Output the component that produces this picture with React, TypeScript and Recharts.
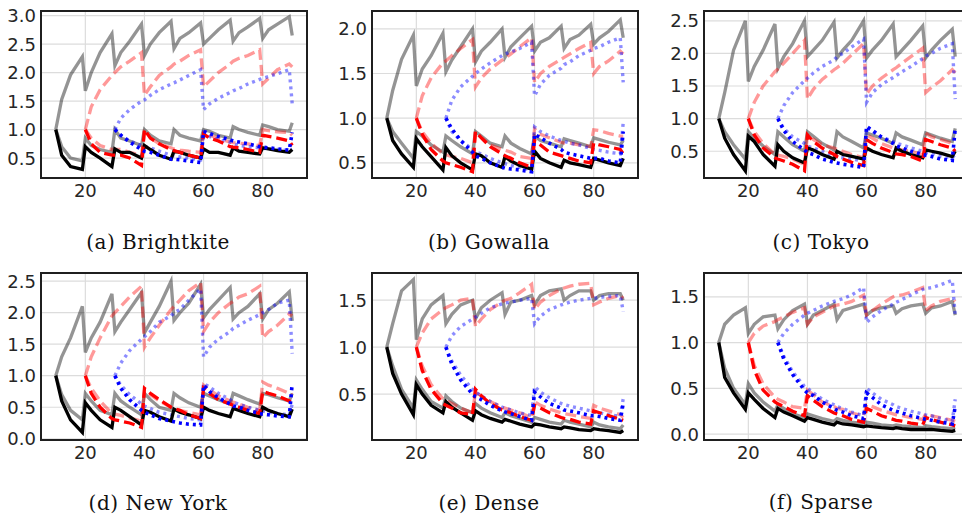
import { LineChart, Line, XAxis, YAxis, CartesianGrid } from 'recharts';

const _ = null;

// shared x grid (resets happen every 10 steps)
const steps = [10, 12, 15, 19, 20, 22, 25, 29, 30, 32, 35, 39, 40, 42, 45, 49, 50, 52, 55, 59, 60, 62, 65, 69, 70, 72, 75, 79, 80, 82, 85, 89, 90];

// (a) Brightkite
const bkGrayUp = [1.0, 1.53, 1.96, 2.28, 1.68, 2.0, 2.35, 2.68, 2.12, 2.35, 2.55, 2.85, 2.3, 2.5, 2.7, 2.9, 2.42, 2.6, 2.7, 2.87, 2.5, 2.6, 2.75, 2.92, 2.55, 2.7, 2.8, 2.95, 2.6, 2.75, 2.85, 2.98, 2.65];
const bkGrayLow = [1.0, 0.7, 0.5, 0.45, 0.85, 0.72, 0.65, 0.6, 1.0, 0.85, 0.8, 0.72, 1.0, 0.9, 0.8, 0.75, 1.0, 0.9, 0.85, 0.8, 1.0, 0.97, 0.9, 0.85, 1.05, 1.0, 0.95, 0.9, 1.08, 1.05, 1.0, 0.97, 1.12];
const bkBlack = [1.0, 0.55, 0.35, 0.3, 0.7, 0.6, 0.5, 0.35, 0.66, 0.6, 0.6, 0.5, 0.72, 0.65, 0.55, 0.48, 0.62, 0.6, 0.55, 0.5, 0.66, 0.6, 0.6, 0.55, 0.68, 0.62, 0.6, 0.57, 0.68, 0.66, 0.63, 0.6, 0.65];
const bkPinkUp = [_, _, _, _, 1.0, 1.4, 1.7, 1.95, 2.0, 2.1, 2.2, 2.35, 1.6, 1.75, 1.95, 2.1, 2.15, 2.2, 2.3, 2.4, 1.75, 1.85, 2.0, 2.15, 2.2, 2.25, 2.3, 2.4, 1.8, 1.9, 2.05, 2.15, 2.1];
const bkPinkLow = [_, _, _, _, 1.0, 0.85, 0.72, 0.65, 0.65, 0.65, 0.6, 0.55, 0.95, 0.85, 0.75, 0.68, 0.66, 0.64, 0.62, 0.6, 0.95, 0.9, 0.85, 0.78, 0.77, 0.76, 0.75, 0.72, 1.0, 0.98, 0.96, 0.95, 0.9];
const bkRed = [_, _, _, _, 1.0, 0.75, 0.6, 0.55, 0.55, 0.55, 0.5, 0.37, 1.0, 0.85, 0.75, 0.65, 0.63, 0.6, 0.55, 0.5, 0.92, 0.85, 0.8, 0.7, 0.69, 0.68, 0.65, 0.6, 0.9, 0.88, 0.85, 0.8, 0.72];
const bkLightBlueUp = [_, _, _, _, _, _, _, _, 1.0, 1.2, 1.35, 1.5, 1.52, 1.6, 1.7, 1.8, 1.82, 1.87, 1.95, 2.05, 1.35, 1.45, 1.55, 1.65, 1.68, 1.72, 1.8, 1.88, 1.9, 1.93, 1.98, 2.05, 1.45];
const bkLightBlueLow = [_, _, _, _, _, _, _, _, 1.0, 0.9, 0.8, 0.72, 0.7, 0.68, 0.62, 0.55, 0.54, 0.52, 0.5, 0.47, 0.95, 0.88, 0.82, 0.78, 0.75, 0.72, 0.7, 0.68, 0.67, 0.66, 0.65, 0.63, 0.65];
const bkBlue = [_, _, _, _, _, _, _, _, 1.0, 0.9, 0.78, 0.65, 0.62, 0.6, 0.55, 0.48, 0.48, 0.47, 0.45, 0.42, 0.97, 0.93, 0.88, 0.82, 0.8, 0.78, 0.75, 0.7, 0.69, 0.68, 0.66, 0.64, 0.95];

// (b) Gowalla
const gwGrayUp = [1.0, 1.31, 1.66, 1.93, 1.36, 1.55, 1.7, 1.95, 1.52, 1.65, 1.8, 2.0, 1.63, 1.75, 1.85, 2.0, 1.68, 1.8, 1.9, 2.03, 1.75, 1.85, 1.9, 2.03, 1.78, 1.88, 1.93, 2.05, 1.83, 1.9, 1.97, 2.1, 1.9];
const gwGrayLow = [1.0, 0.85, 0.72, 0.55, 0.85, 0.8, 0.7, 0.62, 0.8, 0.75, 0.68, 0.6, 0.85, 0.8, 0.72, 0.68, 0.8, 0.72, 0.66, 0.6, 0.8, 0.75, 0.72, 0.68, 0.77, 0.75, 0.72, 0.68, 0.78, 0.76, 0.73, 0.7, 0.75];
const gwBlack = [1.0, 0.75, 0.6, 0.45, 0.77, 0.68, 0.57, 0.42, 0.67, 0.58, 0.5, 0.42, 0.6, 0.58, 0.5, 0.45, 0.57, 0.52, 0.47, 0.43, 0.63, 0.55, 0.5, 0.45, 0.53, 0.5, 0.48, 0.45, 0.55, 0.53, 0.5, 0.47, 0.55];
const gwPinkUp = [_, _, _, _, 1.0, 1.25, 1.45, 1.62, 1.64, 1.7, 1.78, 1.88, 1.35, 1.45, 1.55, 1.65, 1.67, 1.72, 1.8, 1.9, 1.4, 1.5, 1.58, 1.66, 1.68, 1.72, 1.78, 1.85, 1.5, 1.58, 1.64, 1.75, 1.72];
const gwPinkLow = [_, _, _, _, 1.0, 0.85, 0.72, 0.6, 0.59, 0.57, 0.55, 0.5, 0.85, 0.78, 0.7, 0.65, 0.64, 0.62, 0.57, 0.55, 0.88, 0.82, 0.78, 0.73, 0.72, 0.72, 0.7, 0.68, 0.87, 0.86, 0.83, 0.8, 0.8];
const gwRed = [_, _, _, _, 1.0, 0.82, 0.65, 0.52, 0.5, 0.48, 0.45, 0.4, 0.85, 0.78, 0.68, 0.6, 0.58, 0.55, 0.5, 0.45, 0.75, 0.7, 0.62, 0.58, 0.57, 0.55, 0.52, 0.5, 0.72, 0.7, 0.68, 0.65, 0.6];
const gwLightBlueUp = [_, _, _, _, _, _, _, _, 1.0, 1.2, 1.35, 1.47, 1.5, 1.55, 1.62, 1.7, 1.72, 1.74, 1.78, 1.85, 1.25, 1.38, 1.48, 1.56, 1.6, 1.63, 1.7, 1.76, 1.78, 1.8, 1.85, 1.9, 1.4];
const gwLightBlueLow = [_, _, _, _, _, _, _, _, 1.0, 0.85, 0.75, 0.65, 0.62, 0.6, 0.55, 0.5, 0.49, 0.47, 0.45, 0.42, 0.9, 0.85, 0.8, 0.75, 0.74, 0.72, 0.7, 0.66, 0.65, 0.64, 0.62, 0.6, 0.95];
const gwBlue = [_, _, _, _, _, _, _, _, 1.0, 0.88, 0.75, 0.62, 0.58, 0.55, 0.5, 0.45, 0.44, 0.43, 0.42, 0.4, 0.82, 0.78, 0.72, 0.65, 0.62, 0.6, 0.58, 0.55, 0.55, 0.55, 0.52, 0.5, 0.85];

// (c) Tokyo
const tkGrayUp = [1.0, 1.4, 2.05, 2.5, 1.57, 1.8, 2.05, 2.45, 1.77, 1.95, 2.15, 2.5, 1.95, 2.05, 2.2, 2.48, 1.93, 2.05, 2.2, 2.5, 1.93, 2.05, 2.2, 2.45, 1.95, 2.05, 2.2, 2.42, 1.93, 2.05, 2.2, 2.37, 1.95];
const tkGrayLow = [1.0, 0.8, 0.6, 0.38, 0.8, 0.7, 0.58, 0.45, 0.8, 0.72, 0.6, 0.5, 0.8, 0.73, 0.62, 0.52, 0.8, 0.72, 0.65, 0.55, 0.78, 0.75, 0.7, 0.62, 0.78, 0.72, 0.67, 0.6, 0.78, 0.75, 0.7, 0.65, 0.85];
const tkBlack = [1.0, 0.7, 0.45, 0.2, 0.73, 0.65, 0.45, 0.27, 0.6, 0.5, 0.4, 0.32, 0.55, 0.52, 0.45, 0.38, 0.5, 0.45, 0.42, 0.38, 0.55, 0.5, 0.45, 0.4, 0.55, 0.5, 0.45, 0.4, 0.52, 0.5, 0.47, 0.42, 0.5];
const tkPinkUp = [_, _, _, _, 1.0, 1.25, 1.5, 1.72, 1.76, 1.85, 2.0, 2.2, 1.3, 1.45, 1.6, 1.75, 1.78, 1.85, 1.98, 2.15, 1.38, 1.5, 1.62, 1.75, 1.78, 1.85, 1.95, 2.08, 1.4, 1.48, 1.58, 1.75, 1.7];
const tkPinkLow = [_, _, _, _, 1.0, 0.8, 0.62, 0.45, 0.44, 0.42, 0.38, 0.3, 0.75, 0.68, 0.6, 0.55, 0.53, 0.5, 0.45, 0.4, 0.75, 0.7, 0.62, 0.55, 0.54, 0.52, 0.5, 0.45, 0.78, 0.72, 0.68, 0.62, 0.6];
const tkRed = [_, _, _, _, 1.0, 0.75, 0.55, 0.4, 0.38, 0.35, 0.3, 0.2, 0.75, 0.65, 0.55, 0.45, 0.42, 0.38, 0.33, 0.28, 0.68, 0.62, 0.55, 0.48, 0.46, 0.45, 0.42, 0.35, 0.68, 0.65, 0.6, 0.55, 0.5];
const tkLightBlueUp = [_, _, _, _, _, _, _, _, 1.0, 1.2, 1.4, 1.58, 1.62, 1.7, 1.8, 1.9, 1.95, 2.0, 2.1, 2.22, 1.25, 1.4, 1.52, 1.63, 1.66, 1.72, 1.8, 1.92, 1.96, 2.0, 2.08, 2.15, 1.3];
const tkLightBlueLow = [_, _, _, _, _, _, _, _, 1.0, 0.85, 0.72, 0.62, 0.58, 0.55, 0.5, 0.42, 0.41, 0.4, 0.38, 0.35, 0.85, 0.8, 0.72, 0.65, 0.62, 0.6, 0.55, 0.5, 0.48, 0.47, 0.43, 0.4, 0.45];
const tkBlue = [_, _, _, _, _, _, _, _, 1.0, 0.82, 0.65, 0.52, 0.48, 0.45, 0.38, 0.33, 0.32, 0.3, 0.28, 0.25, 0.88, 0.82, 0.72, 0.62, 0.58, 0.55, 0.5, 0.45, 0.44, 0.42, 0.38, 0.36, 0.85];

// (d) New York
const nyGrayUp = [1.0, 1.3, 1.6, 2.1, 1.37, 1.6, 1.85, 2.3, 1.7, 1.85, 2.05, 2.32, 1.68, 1.85, 2.1, 2.5, 1.88, 2.0, 2.15, 2.45, 1.92, 2.05, 2.2, 2.4, 1.9, 2.0, 2.1, 2.3, 1.9, 2.05, 2.15, 2.33, 1.87];
const nyGrayLow = [1.0, 0.7, 0.45, 0.3, 0.72, 0.6, 0.45, 0.38, 0.72, 0.6, 0.5, 0.38, 0.72, 0.62, 0.5, 0.45, 0.72, 0.65, 0.57, 0.5, 0.72, 0.68, 0.62, 0.55, 0.72, 0.68, 0.62, 0.55, 0.72, 0.7, 0.65, 0.6, 0.72];
const nyBlack = [1.0, 0.6, 0.3, 0.1, 0.57, 0.45, 0.3, 0.18, 0.5, 0.45, 0.35, 0.22, 0.45, 0.42, 0.35, 0.28, 0.47, 0.42, 0.38, 0.32, 0.5, 0.45, 0.4, 0.35, 0.48, 0.45, 0.4, 0.35, 0.5, 0.45, 0.4, 0.35, 0.47];
const nyPinkUp = [_, _, _, _, 1.0, 1.3, 1.6, 1.95, 2.0, 2.1, 2.25, 2.42, 1.45, 1.6, 1.8, 2.05, 2.1, 2.2, 2.35, 2.48, 1.7, 1.85, 2.0, 2.15, 2.18, 2.25, 2.3, 2.42, 1.6, 1.7, 1.8, 1.98, 1.95];
const nyPinkLow = [_, _, _, _, 1.0, 0.8, 0.6, 0.4, 0.39, 0.37, 0.33, 0.28, 0.75, 0.7, 0.6, 0.5, 0.48, 0.45, 0.42, 0.38, 0.85, 0.78, 0.68, 0.6, 0.58, 0.55, 0.5, 0.45, 0.9, 0.85, 0.8, 0.72, 0.7];
const nyRed = [_, _, _, _, 1.0, 0.72, 0.5, 0.32, 0.3, 0.28, 0.25, 0.18, 0.8, 0.72, 0.62, 0.5, 0.48, 0.45, 0.38, 0.32, 0.8, 0.72, 0.62, 0.55, 0.53, 0.5, 0.45, 0.4, 0.75, 0.72, 0.68, 0.6, 0.55];
const nyLightBlueUp = [_, _, _, _, _, _, _, _, 1.0, 1.2, 1.4, 1.58, 1.62, 1.7, 1.85, 1.95, 2.0, 2.05, 2.2, 2.38, 1.3, 1.45, 1.58, 1.7, 1.75, 1.8, 1.88, 1.97, 2.0, 2.05, 2.15, 2.2, 1.35];
const nyLightBlueLow = [_, _, _, _, _, _, _, _, 1.0, 0.85, 0.7, 0.55, 0.52, 0.48, 0.42, 0.38, 0.37, 0.35, 0.32, 0.3, 0.88, 0.82, 0.72, 0.62, 0.58, 0.55, 0.5, 0.45, 0.44, 0.42, 0.4, 0.38, 0.55];
const nyBlue = [_, _, _, _, _, _, _, _, 1.0, 0.8, 0.62, 0.45, 0.42, 0.38, 0.32, 0.28, 0.27, 0.25, 0.23, 0.22, 0.85, 0.75, 0.65, 0.55, 0.52, 0.5, 0.45, 0.4, 0.39, 0.38, 0.36, 0.35, 0.88];

// (e) Dense
const dnGrayUp = [1.0, 1.25, 1.6, 1.72, 1.08, 1.3, 1.45, 1.55, 1.25, 1.35, 1.45, 1.5, 1.3, 1.42, 1.5, 1.58, 1.35, 1.48, 1.5, 1.55, 1.45, 1.55, 1.6, 1.62, 1.5, 1.55, 1.6, 1.6, 1.5, 1.55, 1.57, 1.57, 1.5];
const dnGrayLow = [1.0, 0.8, 0.55, 0.35, 0.65, 0.55, 0.42, 0.35, 0.48, 0.42, 0.35, 0.3, 0.4, 0.35, 0.3, 0.25, 0.3, 0.27, 0.24, 0.2, 0.25, 0.23, 0.2, 0.18, 0.22, 0.2, 0.18, 0.15, 0.2, 0.17, 0.15, 0.13, 0.17];
const dnBlack = [1.0, 0.72, 0.5, 0.28, 0.6, 0.5, 0.38, 0.3, 0.42, 0.36, 0.3, 0.22, 0.32, 0.28, 0.24, 0.2, 0.23, 0.21, 0.18, 0.15, 0.18, 0.17, 0.15, 0.13, 0.15, 0.14, 0.12, 0.11, 0.13, 0.12, 0.11, 0.09, 0.11];
const dnPinkUp = [_, _, _, _, 1.0, 1.15, 1.3, 1.4, 1.42, 1.45, 1.5, 1.52, 1.22, 1.3, 1.4, 1.48, 1.5, 1.52, 1.58, 1.67, 1.4, 1.48, 1.55, 1.62, 1.63, 1.65, 1.67, 1.68, 1.45, 1.48, 1.52, 1.55, 1.52];
const dnPinkLow = [_, _, _, _, 1.0, 0.8, 0.6, 0.45, 0.43, 0.4, 0.35, 0.3, 0.52, 0.48, 0.42, 0.36, 0.35, 0.33, 0.3, 0.25, 0.42, 0.38, 0.34, 0.3, 0.29, 0.28, 0.26, 0.24, 0.38, 0.35, 0.32, 0.28, 0.25];
const dnRed = [_, _, _, _, 1.0, 0.75, 0.55, 0.4, 0.38, 0.35, 0.3, 0.28, 0.55, 0.48, 0.4, 0.33, 0.32, 0.3, 0.26, 0.22, 0.38, 0.35, 0.3, 0.25, 0.24, 0.23, 0.2, 0.18, 0.32, 0.3, 0.27, 0.23, 0.22];
const dnLightBlueUp = [_, _, _, _, _, _, _, _, 1.0, 1.12, 1.22, 1.3, 1.32, 1.36, 1.42, 1.46, 1.47, 1.48, 1.5, 1.52, 1.25, 1.33, 1.4, 1.45, 1.46, 1.48, 1.5, 1.52, 1.52, 1.53, 1.54, 1.55, 1.38];
const dnLightBlueLow = [_, _, _, _, _, _, _, _, 1.0, 0.85, 0.7, 0.55, 0.52, 0.48, 0.42, 0.36, 0.35, 0.33, 0.3, 0.27, 0.58, 0.52, 0.46, 0.4, 0.39, 0.37, 0.35, 0.32, 0.31, 0.3, 0.28, 0.26, 0.45];
const dnBlue = [_, _, _, _, _, _, _, _, 1.0, 0.82, 0.65, 0.5, 0.47, 0.44, 0.38, 0.32, 0.31, 0.29, 0.26, 0.22, 0.52, 0.47, 0.4, 0.35, 0.33, 0.32, 0.3, 0.27, 0.27, 0.26, 0.24, 0.22, 0.4];

// (f) Sparse
const spGrayUp = [1.0, 1.2, 1.3, 1.38, 1.1, 1.2, 1.28, 1.3, 1.15, 1.25, 1.35, 1.42, 1.2, 1.3, 1.35, 1.42, 1.25, 1.35, 1.38, 1.42, 1.3, 1.35, 1.38, 1.4, 1.32, 1.37, 1.4, 1.42, 1.32, 1.38, 1.4, 1.45, 1.3];
const spGrayLow = [1.0, 0.72, 0.5, 0.32, 0.55, 0.45, 0.35, 0.25, 0.32, 0.28, 0.22, 0.18, 0.22, 0.2, 0.17, 0.14, 0.17, 0.15, 0.13, 0.11, 0.13, 0.12, 0.1, 0.09, 0.1, 0.09, 0.08, 0.07, 0.09, 0.08, 0.07, 0.06, 0.07];
const spBlack = [1.0, 0.62, 0.45, 0.27, 0.45, 0.38, 0.28, 0.18, 0.28, 0.24, 0.2, 0.14, 0.18, 0.16, 0.13, 0.1, 0.13, 0.11, 0.1, 0.08, 0.09, 0.08, 0.07, 0.06, 0.07, 0.06, 0.05, 0.05, 0.05, 0.05, 0.04, 0.03, 0.04];
const spPinkUp = [_, _, _, _, 1.0, 1.1, 1.18, 1.23, 1.25, 1.28, 1.33, 1.38, 1.2, 1.28, 1.33, 1.4, 1.41, 1.42, 1.45, 1.52, 1.3, 1.35, 1.42, 1.5, 1.51, 1.52, 1.55, 1.6, 1.35, 1.4, 1.45, 1.48, 1.45];
const spPinkLow = [_, _, _, _, 1.0, 0.75, 0.55, 0.4, 0.38, 0.35, 0.3, 0.28, 0.48, 0.43, 0.35, 0.3, 0.28, 0.27, 0.23, 0.2, 0.32, 0.3, 0.26, 0.22, 0.21, 0.2, 0.18, 0.16, 0.22, 0.2, 0.18, 0.15, 0.14];
const spRed = [_, _, _, _, 1.0, 0.7, 0.48, 0.35, 0.33, 0.3, 0.25, 0.2, 0.42, 0.37, 0.3, 0.23, 0.22, 0.2, 0.16, 0.13, 0.28, 0.25, 0.2, 0.16, 0.15, 0.14, 0.12, 0.1, 0.18, 0.16, 0.13, 0.1, 0.09];
const spLightBlueUp = [_, _, _, _, _, _, _, _, 1.0, 1.1, 1.2, 1.3, 1.32, 1.35, 1.4, 1.45, 1.46, 1.48, 1.52, 1.6, 1.22, 1.28, 1.35, 1.42, 1.44, 1.47, 1.52, 1.58, 1.59, 1.6, 1.63, 1.68, 1.3];
const spLightBlueLow = [_, _, _, _, _, _, _, _, 1.0, 0.85, 0.68, 0.52, 0.5, 0.45, 0.38, 0.32, 0.3, 0.28, 0.24, 0.2, 0.5, 0.45, 0.38, 0.32, 0.3, 0.28, 0.25, 0.22, 0.21, 0.2, 0.17, 0.14, 0.38];
const spBlue = [_, _, _, _, _, _, _, _, 1.0, 0.82, 0.65, 0.48, 0.45, 0.42, 0.35, 0.28, 0.26, 0.24, 0.2, 0.17, 0.45, 0.4, 0.32, 0.26, 0.25, 0.23, 0.2, 0.17, 0.16, 0.15, 0.13, 0.11, 0.3];

type Series = (number | null)[][];

const seriesKeys = ['gU', 'gL', 'pU', 'pL', 'lbU', 'lbL', 'k', 'r', 'b'];

const styles: Record<string, { stroke: string; opacity: number; dash?: string; width: number }> = {
  gU: { stroke: '#000', opacity: 0.42, width: 3.3 },
  gL: { stroke: '#000', opacity: 0.42, width: 3.3 },
  pU: { stroke: '#ff0000', opacity: 0.4, dash: '11 5', width: 3.3 },
  pL: { stroke: '#ff0000', opacity: 0.4, dash: '11 5', width: 3.3 },
  lbU: { stroke: '#0000ff', opacity: 0.45, dash: '3 4', width: 3.4 },
  lbL: { stroke: '#0000ff', opacity: 0.45, dash: '3 4', width: 3.4 },
  k: { stroke: '#000', opacity: 1, width: 3.3 },
  r: { stroke: '#ff0000', opacity: 1, dash: '11 5', width: 3.3 },
  b: { stroke: '#0000ff', opacity: 1, dash: '3 4', width: 3.6 },
};

const Y_AXIS_W = 41;
const X_AXIS_H = 26;
const TOP_PAD = 12;
const PLOT_W = 266;
const PLOT_H = 167;
const TICK_FONT = { fontFamily: 'DejaVu Sans', fontSize: 18, fill: '#262626' };

function YTick(props: any) {
  const { x, y, payload } = props;
  return (
    <text x={x} y={y} dy="0.36em" textAnchor="end" {...TICK_FONT}>
      {Number(payload.value).toFixed(1)}
    </text>
  );
}

interface PanelProps {
  series: Series;
  yDomain: [number, number];
  yTicks: number[];
  plotLeft: number;
  plotTop: number;
  caption: string;
  captionX: number;
  captionY: number;
}

function Panel({ series, yDomain, yTicks, plotLeft, plotTop, caption, captionX, captionY }: PanelProps) {
  const data = steps.map((x, i) => {
    const row: Record<string, number | null> = { x };
    seriesKeys.forEach((k, j) => {
      row[k] = series[j][i];
    });
    return row;
  });
  return (
    <>
      <div style={{ position: 'absolute', left: plotLeft - Y_AXIS_W, top: plotTop - TOP_PAD }}>
        <LineChart
          width={Y_AXIS_W + PLOT_W}
          height={TOP_PAD + PLOT_H + X_AXIS_H}
          data={data}
          margin={{ top: TOP_PAD, right: 0, bottom: 0, left: 0 }}
        >
          <CartesianGrid stroke="#dcdcdc" strokeWidth={1.2} />
          <XAxis
            dataKey="x"
            type="number"
            domain={[5, 95]}
            allowDataOverflow
            ticks={[20, 40, 60, 80]}
            interval={0}
            tickLine={false}
            axisLine={false}
            tickSize={0}
            tickMargin={6}
            height={X_AXIS_H}
            tick={TICK_FONT}
          />
          <YAxis
            type="number"
            domain={yDomain}
            allowDataOverflow
            ticks={yTicks}
            interval={0}
            tick={<YTick />}
            tickLine={false}
            axisLine={false}
            tickSize={0}
            tickMargin={5}
            width={Y_AXIS_W}
          />
          {seriesKeys.map((k) => (
            <Line
              key={k}
              dataKey={k}
              type="linear"
              dot={false}
              stroke={styles[k].stroke}
              strokeOpacity={styles[k].opacity}
              strokeWidth={styles[k].width}
              strokeDasharray={styles[k].dash}
              isAnimationActive={false}
            />
          ))}
        </LineChart>
      </div>
      {/* axes frame */}
      <div
        style={{
          position: 'absolute',
          zIndex: 5,
          left: plotLeft - 1,
          top: plotTop - 1,
          width: PLOT_W + 2,
          height: PLOT_H + 2,
          border: '2px solid #1f1f1f',
          boxSizing: 'border-box',
          pointerEvents: 'none',
        }}
      />
      <div
        style={{
          position: 'absolute',
          left: captionX - 150,
          width: 300,
          top: captionY - 12,
          textAlign: 'center',
          fontFamily: 'DejaVu Serif',
          fontSize: 20,
          letterSpacing: 0.5,
          lineHeight: '24px',
          color: '#111',
        }}
      >
        {caption}
      </div>
    </>
  );
}

export default function App() {
  return (
    <div
      style={{
        position: 'fixed',
        left: 0,
        top: 0,
        width: 962,
        height: 514,
        overflow: 'hidden',
        background: '#fff',
      }}
    >
      <Panel
        series={[bkGrayUp, bkGrayLow, bkPinkUp, bkPinkLow, bkLightBlueUp, bkLightBlueLow, bkBlack, bkRed, bkBlue]}
        yDomain={[0.15, 3.08]}
        yTicks={[0.5, 1, 1.5, 2, 2.5, 3]}
        plotLeft={41}
        plotTop={11}
        caption="(a) Brightkite"
        captionX={158}
        captionY={242}
      />
      <Panel
        series={[gwGrayUp, gwGrayLow, gwPinkUp, gwPinkLow, gwLightBlueUp, gwLightBlueLow, gwBlack, gwRed, gwBlue]}
        yDomain={[0.33, 2.2]}
        yTicks={[0.5, 1, 1.5, 2]}
        plotLeft={372}
        plotTop={11}
        caption="(b) Gowalla"
        captionX={489}
        captionY={242}
      />
      <Panel
        series={[tkGrayUp, tkGrayLow, tkPinkUp, tkPinkLow, tkLightBlueUp, tkLightBlueLow, tkBlack, tkRed, tkBlue]}
        yDomain={[0.09, 2.65]}
        yTicks={[0.5, 1, 1.5, 2, 2.5]}
        plotLeft={704}
        plotTop={11}
        caption="(c) Tokyo"
        captionX={821}
        captionY={242}
      />
      <Panel
        series={[nyGrayUp, nyGrayLow, nyPinkUp, nyPinkLow, nyLightBlueUp, nyLightBlueLow, nyBlack, nyRed, nyBlue]}
        yDomain={[-0.02, 2.63]}
        yTicks={[0, 0.5, 1, 1.5, 2, 2.5]}
        plotLeft={41}
        plotTop={273}
        caption="(d) New York"
        captionX={158}
        captionY={503}
      />
      <Panel
        series={[dnGrayUp, dnGrayLow, dnPinkUp, dnPinkLow, dnLightBlueUp, dnLightBlueLow, dnBlack, dnRed, dnBlue]}
        yDomain={[0.01, 1.79]}
        yTicks={[0.5, 1, 1.5]}
        plotLeft={372}
        plotTop={273}
        caption="(e) Dense"
        captionX={489}
        captionY={503}
      />
      <Panel
        series={[spGrayUp, spGrayLow, spPinkUp, spPinkLow, spLightBlueUp, spLightBlueLow, spBlack, spRed, spBlue]}
        yDomain={[-0.065, 1.76]}
        yTicks={[0, 0.5, 1, 1.5]}
        plotLeft={704}
        plotTop={273}
        caption="(f) Sparse"
        captionX={821}
        captionY={502}
      />
    </div>
  );
}
